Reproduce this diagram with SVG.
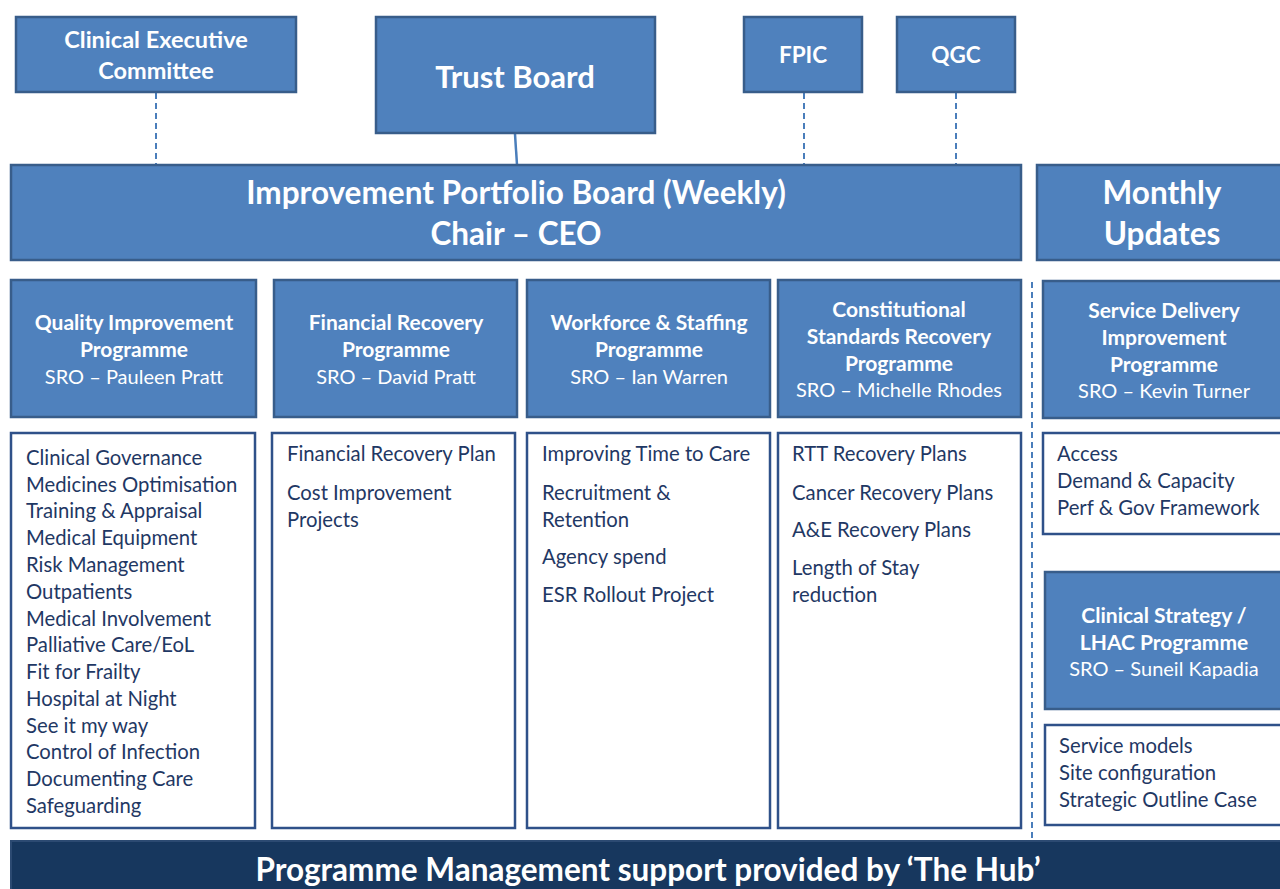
<svg xmlns="http://www.w3.org/2000/svg" width="1280" height="889" viewBox="0 0 1280 889">
  <style>
    .blue { fill: #4F81BD; stroke: #385D8A; stroke-width: 2.5; }
    .list { fill: #FFFFFF; stroke: #2F5189; stroke-width: 2.5; }
    .hub { fill: #17375E; stroke: #2C4A72; stroke-width: 2; }
    .t { font-family: Lato, "Liberation Sans", sans-serif; fill: #FFFFFF; text-anchor: middle; }
    .b { font-weight: bold; }
    .h { font-size: 21px; }
    .s { font-size: 20px; }
    .big { font-size: 31.5px; }
    .li { font-family: Lato, "Liberation Sans", sans-serif; fill: #1F3864; font-size: 20.3px; }
    .dash { stroke: #4A7EBB; stroke-width: 2; stroke-dasharray: 6 4; fill: none; }
    .solid { stroke: #4A7EBB; stroke-width: 2.5; fill: none; }
  </style>

  <g id="connectors">
    <line class="dash" x1="156" y1="93" x2="156" y2="165"/>
    <line class="solid" x1="515" y1="134" x2="517" y2="165"/>
    <line class="dash" x1="804" y1="93" x2="804" y2="165"/>
    <line class="dash" x1="956" y1="93" x2="956" y2="165"/>
    <line class="dash" x1="1032" y1="282" x2="1032" y2="842"/>
  </g>

  <g id="clinical-executive">
    <rect class="blue" x="16" y="17" width="280" height="75"/>
    <text class="t b" font-size="23.5" x="156" y="48">Clinical Executive</text>
    <text class="t b" font-size="23.5" x="156" y="79">Committee</text>
  </g>

  <g id="trust-board">
    <rect class="blue" x="376" y="17" width="279" height="116"/>
    <text class="t b" font-size="31" x="515" y="88">Trust Board</text>
  </g>

  <g id="fpic">
    <rect class="blue" x="744" y="17" width="118" height="75"/>
    <text class="t b" font-size="22.5" x="803" y="63">FPIC</text>
  </g>

  <g id="qgc">
    <rect class="blue" x="897" y="17" width="118" height="75"/>
    <text class="t b" font-size="22.5" x="956" y="63">QGC</text>
  </g>

  <g id="portfolio-board">
    <rect class="blue" x="11" y="165" width="1010" height="95"/>
    <text class="t b big" x="516" y="204">Improvement Portfolio Board (Weekly)</text>
    <text class="t b big" x="516" y="245">Chair – CEO</text>
  </g>

  <g id="monthly-updates">
    <rect class="blue" x="1037" y="165" width="250" height="95"/>
    <text class="t b big" x="1162" y="204">Monthly</text>
    <text class="t b big" x="1162" y="245">Updates</text>
  </g>

  <g id="quality-programme">
    <rect class="blue" x="11" y="280" width="245" height="137"/>
    <text class="t b h" x="134" y="330">Quality Improvement</text>
    <text class="t b h" x="134" y="357">Programme</text>
    <text class="t s" x="134" y="384">SRO – Pauleen Pratt</text>
  </g>

  <g id="financial-programme">
    <rect class="blue" x="274" y="280" width="243" height="137"/>
    <text class="t b h" x="396" y="330">Financial Recovery</text>
    <text class="t b h" x="396" y="357">Programme</text>
    <text class="t s" x="396" y="384">SRO – David Pratt</text>
  </g>

  <g id="workforce-programme">
    <rect class="blue" x="527" y="280" width="243" height="137"/>
    <text class="t b h" x="649" y="330">Workforce &amp; Staffing</text>
    <text class="t b h" x="649" y="357">Programme</text>
    <text class="t s" x="649" y="384">SRO – Ian Warren</text>
  </g>

  <g id="constitutional-programme">
    <rect class="blue" x="778" y="280" width="243" height="137"/>
    <text class="t b h" x="899" y="317">Constitutional</text>
    <text class="t b h" x="899" y="344">Standards Recovery</text>
    <text class="t b h" x="899" y="371">Programme</text>
    <text class="t s" x="899" y="397">SRO – Michelle Rhodes</text>
  </g>

  <g id="service-delivery-programme">
    <rect class="blue" x="1043" y="281" width="245" height="137"/>
    <text class="t b h" x="1164" y="318">Service Delivery</text>
    <text class="t b h" x="1164" y="345">Improvement</text>
    <text class="t b h" x="1164" y="372">Programme</text>
    <text class="t s" x="1164" y="398">SRO – Kevin Turner</text>
  </g>

  <g id="quality-projects">
    <rect class="list" x="11" y="433" width="244" height="395"/>
    <text class="li" x="26" y="465">Clinical Governance</text>
    <text class="li" x="26" y="492">Medicines Optimisation</text>
    <text class="li" x="26" y="518">Training &amp; Appraisal</text>
    <text class="li" x="26" y="545">Medical Equipment</text>
    <text class="li" x="26" y="572">Risk Management</text>
    <text class="li" x="26" y="599">Outpatients</text>
    <text class="li" x="26" y="626">Medical Involvement</text>
    <text class="li" x="26" y="652">Palliative Care/EoL</text>
    <text class="li" x="26" y="679">Fit for Frailty</text>
    <text class="li" x="26" y="706">Hospital at Night</text>
    <text class="li" x="26" y="733">See it my way</text>
    <text class="li" x="26" y="759">Control of Infection</text>
    <text class="li" x="26" y="786">Documenting Care</text>
    <text class="li" x="26" y="813">Safeguarding</text>
  </g>

  <g id="financial-projects">
    <rect class="list" x="272" y="433" width="243" height="395"/>
    <text class="li" x="287" y="461">Financial Recovery Plan</text>
    <text class="li" x="287" y="500">Cost Improvement</text>
    <text class="li" x="287" y="527">Projects</text>
  </g>

  <g id="workforce-projects">
    <rect class="list" x="527" y="433" width="243" height="395"/>
    <text class="li" x="542" y="461">Improving Time to Care</text>
    <text class="li" x="542" y="500">Recruitment &amp;</text>
    <text class="li" x="542" y="527">Retention</text>
    <text class="li" x="542" y="564">Agency spend</text>
    <text class="li" x="542" y="602">ESR Rollout Project</text>
  </g>

  <g id="constitutional-projects">
    <rect class="list" x="778" y="433" width="243" height="395"/>
    <text class="li" x="792" y="461">RTT Recovery Plans</text>
    <text class="li" x="792" y="500">Cancer Recovery Plans</text>
    <text class="li" x="792" y="537">A&amp;E Recovery Plans</text>
    <text class="li" x="792" y="575">Length of Stay</text>
    <text class="li" x="792" y="602">reduction</text>
  </g>

  <g id="service-delivery-projects">
    <rect class="list" x="1043" y="433" width="245" height="101"/>
    <text class="li" x="1057" y="461">Access</text>
    <text class="li" x="1057" y="488">Demand &amp; Capacity</text>
    <text class="li" x="1057" y="515">Perf &amp; Gov Framework</text>
  </g>

  <g id="clinical-strategy-programme">
    <rect class="blue" x="1045" y="572" width="243" height="137"/>
    <text class="t b h" x="1164" y="623">Clinical Strategy /</text>
    <text class="t b h" x="1164" y="650">LHAC Programme</text>
    <text class="t s" x="1164" y="676">SRO – Suneil Kapadia</text>
  </g>

  <g id="clinical-strategy-projects">
    <rect class="list" x="1045" y="725" width="243" height="100"/>
    <text class="li" x="1059" y="753">Service models</text>
    <text class="li" x="1059" y="780">Site configuration</text>
    <text class="li" x="1059" y="807">Strategic Outline Case</text>
  </g>

  <g id="the-hub">
    <rect class="hub" x="11" y="841" width="1280" height="60"/>
    <text class="t b big" x="648" y="881">Programme Management support provided by ‘The Hub’</text>
  </g>
</svg>
